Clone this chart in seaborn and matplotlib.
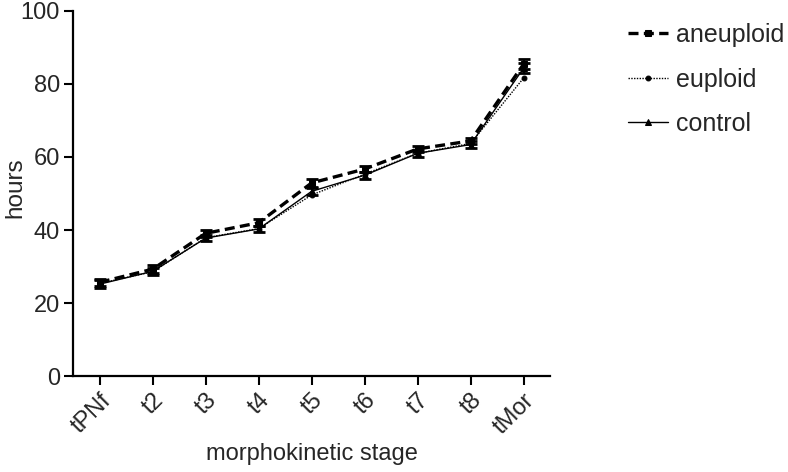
import matplotlib
matplotlib.use("Agg")
import matplotlib.pyplot as plt
import seaborn as sns
import pandas as pd

# dati
stages = ["tPNf", "t2", "t3", "t4", "t5", "t6", "t7", "t8", "tMor"]
aneuploid = [25.7, 29.3, 39.1, 42.0, 52.9, 56.7, 62.2, 64.4, 85.4]
euploid = [25.4, 28.6, 37.9, 40.4, 49.6, 55.3, 61.0, 63.7, 81.6]
control = [25.2, 28.7, 37.8, 40.3, 50.6, 55.0, 61.0, 63.4, 84.3]
aneuploid_err = [1.0, 1.0, 0.9, 0.9, 1.0, 0.9, 0.9, 0.9, 1.3]
control_err = [1.1, 1.0, 0.9, 0.9, 1.0, 1.0, 0.9, 1.0, 1.3]

sns.set_style("ticks")
plt.rcParams['font.family'] = ['Liberation Sans', 'DejaVu Sans']

df = pd.DataFrame({
    'stage': stages * 3,
    'pos': list(range(len(stages))) * 3,
    'hours': aneuploid + euploid + control,
    'group': ['aneuploid'] * 9 + ['euploid'] * 9 + ['control'] * 9,
})

fig = plt.figure(figsize=(7.88, 4.72), dpi=100)
ax = fig.add_axes([0.093, 0.203, 0.605, 0.774])

styles = {
    'aneuploid': dict(ls=(0, (3, 1.6)), lw=2.4, marker='s', ms=4),
    'euploid': dict(ls=(0, (1, 1)), lw=1.0, marker='o', ms=3.5),
    'control': dict(ls='-', lw=1.0, marker='^', ms=4),
}
for name, st in styles.items():
    sub = df[df['group'] == name]
    sns.lineplot(data=sub, x='pos', y='hours', ax=ax, color='black',
                 linestyle=st['ls'], linewidth=st['lw'], marker=st['marker'],
                 markersize=st['ms'], markeredgecolor='black', label=name)

x = list(range(len(stages)))
ax.errorbar(x, aneuploid, yerr=aneuploid_err, fmt='none', ecolor='black',
            elinewidth=1.5, capsize=4, capthick=2)
ax.errorbar(x, control, yerr=control_err, fmt='none', ecolor='black',
            elinewidth=1.5, capsize=4, capthick=2)

ax.set_xlim(-0.5, 8.5)
ax.set_ylim(0, 100)
ax.set_yticks([0, 20, 40, 60, 80, 100])
ax.set_xticks(x)
ax.set_xticklabels(stages, rotation=45, ha='right', rotation_mode='anchor')
ax.tick_params(axis='both', labelsize=17, width=1.5, length=6.5, color='black', pad=3)
ax.set_xlabel('morphokinetic stage', fontsize=17, labelpad=3)
ax.set_ylabel('hours', fontsize=17.5)
ax.yaxis.set_label_coords(-0.098, 0.515)
for s in ['left', 'bottom']:
    ax.spines[s].set_linewidth(1.6)
    ax.spines[s].set_color('black')
sns.despine(ax=ax)

ax.get_legend().remove()
handles, labels = ax.get_legend_handles_labels()
fig.legend(handles, labels, loc='upper left', bbox_to_anchor=(628 / 788, 1 - 23 / 472),
           frameon=False, fontsize=18, handlelength=1.6, handletextpad=0.32,
           labelspacing=0.82, borderpad=0, borderaxespad=0)

fig.savefig('out.png', dpi=100)
